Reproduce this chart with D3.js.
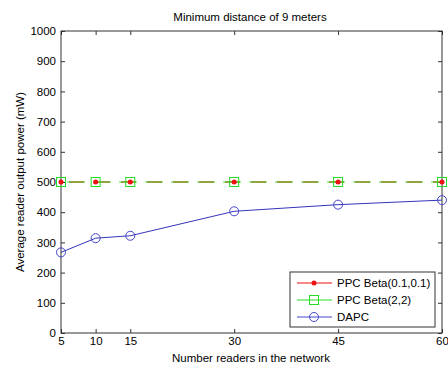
<!DOCTYPE html>
<html><head><meta charset="utf-8">
<script src="https://cdn.jsdelivr.net/npm/d3@7"></script>
<style>body{margin:0;background:#fff;}svg{display:block;font-family:"Liberation Sans",Arial,sans-serif;}</style>
</head><body>
<svg id="c" width="448" height="367"></svg>
<script>
const readers = [5, 10, 15, 30, 45, 60];
const ppcBeta01 = [500, 500, 500, 500, 500, 500];
const ppcBeta22 = [500, 500, 500, 500, 500, 500];
const dapc = [267, 314, 322, 403, 425, 440];
const yTicks = [0, 100, 200, 300, 400, 500, 600, 700, 800, 900, 1000];
const xTicks = [5, 10, 15, 30, 45, 60];
const seriesNames = ["PPC Beta(0.1,0.1)", "PPC Beta(2,2)", "DAPC"];

const svg = d3.select("#c");
const L = 61, R = 442, T = 31, B = 333;
const x = d3.scaleLinear().domain([5, 60]).range([L, R]);
const y = d3.scaleLinear().domain([0, 1000]).range([B, T]);
const axisColor = "#333";
const fs = "11.5px";
const ff = '"Liberation Sans",Arial,sans-serif';

const gx = svg.append("g").attr("transform", `translate(0,${B})`)
  .call(d3.axisBottom(x).tickValues(xTicks).tickFormat(d3.format("d")).tickSizeInner(-4).tickSizeOuter(0));
const gxt = svg.append("g").attr("transform", `translate(0,${T})`)
  .call(d3.axisTop(x).tickValues(xTicks).tickSizeInner(-4).tickSizeOuter(0).tickFormat(""));
const gy = svg.append("g").attr("transform", `translate(${L},0)`)
  .call(d3.axisLeft(y).tickValues(yTicks).tickFormat(d3.format("d")).tickSizeInner(-4).tickSizeOuter(0).tickPadding(5));
const gyr = svg.append("g").attr("transform", `translate(${R},0)`)
  .call(d3.axisRight(y).tickValues(yTicks).tickSizeInner(-4).tickSizeOuter(0).tickFormat(""));
[gx, gxt, gy, gyr].forEach(g => {
  g.select(".domain").remove();
  g.selectAll("line").attr("stroke", axisColor);
  g.selectAll("text").attr("fill", "#000").style("font-size", fs).style("font-family", ff);
});
gx.selectAll("text").attr("dy", "0.71em").attr("y", 4);

svg.append("rect").attr("x", L).attr("y", T).attr("width", R - L).attr("height", B - T)
  .attr("fill", "none").attr("stroke", axisColor).attr("stroke-width", 1);

const line = d3.line().x((d, i) => x(readers[i])).y(d => y(d));

// lines
svg.append("path").datum(ppcBeta22).attr("d", line).attr("fill", "none")
  .attr("stroke", "#44dd44").attr("stroke-width", 1.2)
  .attr("stroke-dasharray", "18,8").attr("stroke-dashoffset", -6);
svg.append("path").datum(ppcBeta01).attr("d", line).attr("fill", "none")
  .attr("stroke", "#8c8c22").attr("stroke-width", 1.6)
  .attr("stroke-dasharray", "15,11").attr("stroke-dashoffset", -8);
svg.append("path").datum(dapc).attr("d", line).attr("fill", "none")
  .attr("stroke", "#3333bb").attr("stroke-width", 1);

// markers
svg.selectAll(".sq").data(ppcBeta22).enter().append("rect")
  .attr("x", (d, i) => x(readers[i]) - 4.5).attr("y", d => y(d) - 4.5)
  .attr("width", 9).attr("height", 9).attr("fill", "none").attr("stroke", "#22dd22").attr("stroke-width", 1);
svg.selectAll(".dot").data(ppcBeta01).enter().append("circle")
  .attr("cx", (d, i) => x(readers[i])).attr("cy", d => y(d)).attr("r", 2.5).attr("fill", "#ee1111");
svg.selectAll(".ci").data(dapc).enter().append("circle")
  .attr("cx", (d, i) => x(readers[i])).attr("cy", d => y(d)).attr("r", 4.5)
  .attr("fill", "none").attr("stroke", "#4444cc").attr("stroke-width", 1);

// title and labels
svg.append("text").attr("x", 250).attr("y", 21).attr("text-anchor", "middle")
  .style("font-size", fs).text("Minimum distance of 9 meters");
svg.append("text").attr("x", 251).attr("y", 362).attr("text-anchor", "middle")
  .style("font-size", fs).text("Number readers in the network");
svg.append("text").attr("transform", `translate(24,${(T + B) / 2}) rotate(-90)`).attr("text-anchor", "middle")
  .style("font-size", fs).text("Average reader output power (mW)");

// legend
const lg = svg.append("g");
lg.append("rect").attr("x", 290).attr("y", 272).attr("width", 145).attr("height", 55)
  .attr("fill", "#fff").attr("stroke", axisColor);
const rows = [283, 300, 317];
const cols = ["#ee1111", "#22dd22", "#4444cc"];
seriesNames.forEach((n, i) => {
  lg.append("line").attr("x1", 297).attr("x2", 332).attr("y1", rows[i]).attr("y2", rows[i])
    .attr("stroke", cols[i]).attr("stroke-width", 1);
  if (i === 0) lg.append("circle").attr("cx", 314).attr("cy", rows[i]).attr("r", 2.5).attr("fill", cols[i]);
  if (i === 1) lg.append("rect").attr("x", 309.5).attr("y", rows[i] - 4.5).attr("width", 9).attr("height", 9)
    .attr("fill", "none").attr("stroke", cols[i]);
  if (i === 2) lg.append("circle").attr("cx", 314).attr("cy", rows[i]).attr("r", 4.5).attr("fill", "none").attr("stroke", cols[i]);
  lg.append("text").attr("x", 337).attr("y", rows[i] + 4).style("font-size", fs).text(n);
});
</script>
</body></html>
